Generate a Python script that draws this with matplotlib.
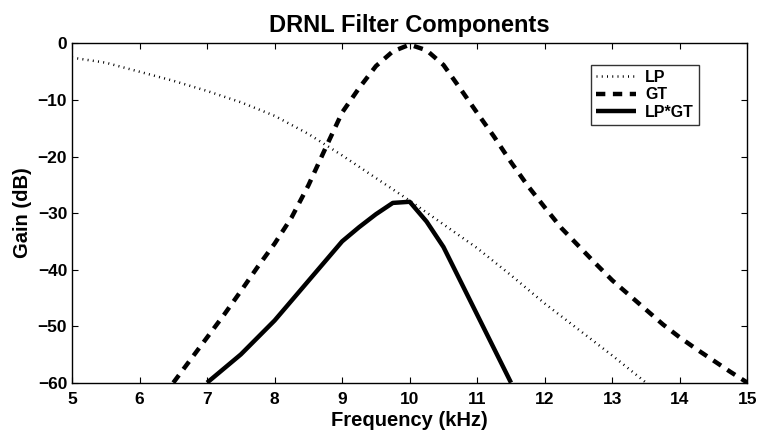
import matplotlib
matplotlib.use("Agg")
import matplotlib.pyplot as plt

plt.rcParams['font.family'] = ['Liberation Sans', 'DejaVu Sans']
plt.rcParams['font.weight'] = 'bold'

# Low-pass response (dB)
lp_freq = [5.0, 5.5, 6.0, 6.5, 7.0, 7.5, 8.0, 8.5, 9.0, 9.5, 10.0,
           10.5, 11.0, 11.5, 12.0, 12.5, 13.0, 13.5]
lp_gain = [-2.5, -3.4, -5.0, -6.6, -8.4, -10.4, -12.8, -16.0, -19.8, -23.8,
           -27.8, -32.0, -36.2, -41.0, -46.0, -50.6, -55.2, -60.0]

# Gammatone response (dB)
gt_freq = [6.5, 6.75, 7.0, 7.25, 7.5, 7.75, 8.0, 8.25, 8.5, 8.75, 9.0,
           9.25, 9.5, 9.75, 10.0, 10.25, 10.5, 10.75, 11.0, 11.25, 11.5,
           11.75, 12.0, 12.25, 12.5, 12.75, 13.0, 13.25, 13.5, 13.75, 14.0,
           14.25, 14.5, 14.75, 15.0]
gt_gain = [-60.0, -56.0, -52.0, -48.0, -43.8, -39.5, -35.4, -30.8, -25.1,
           -18.6, -12.2, -7.9, -4.0, -1.4, -0.2, -1.2, -3.8, -8.0, -12.3,
           -16.5, -21.0, -25.2, -29.0, -32.7, -35.8, -38.9, -41.9, -44.5,
           -47.1, -49.7, -52.0, -54.1, -56.1, -58.1, -60.0]

# Combined cascade LP*GT (dB)
comb_freq = [7.0, 7.5, 8.0, 8.5, 9.0, 9.25, 9.5, 9.75, 10.0, 10.25, 10.5, 11.5]
comb_gain = [-60.0, -55.0, -49.0, -42.0, -35.0, -32.5, -30.2, -28.2, -28.0,
             -31.5, -36.0, -60.0]

fig = plt.figure(figsize=(7.58, 4.37), dpi=100)
ax = fig.add_axes([0.095, 0.1243, 0.891, 0.7762])

ax.plot(lp_freq, lp_gain, color='black', linewidth=1.8,
        dashes=(0.4, 1.7), dash_capstyle='butt', label='LP')
ax.plot(gt_freq, gt_gain, color='black', linewidth=3.2,
        dashes=(2.1, 1.7), dash_capstyle='butt', label='GT')
ax.plot(comb_freq, comb_gain, color='black', linewidth=3.2,
        solid_capstyle='butt', label='LP*GT')

ax.set_xlim(5, 15)
ax.set_ylim(-60, 0)
ax.set_xticks(range(5, 16))
ax.set_yticks(range(-60, 1, 10))
ax.set_yticklabels(['\u221260', '\u221250', '\u221240', '\u221230',
                    '\u221220', '\u221210', '0'])

ax.tick_params(direction='in', length=4.5, width=0.8, labelsize=12.5,
               top=True, right=True)
ax.tick_params(axis='x', pad=6.5)
ax.tick_params(axis='y', pad=3.5)
for lbl in ax.get_xticklabels() + ax.get_yticklabels():
    lbl.set_fontweight('bold')
for sp in ax.spines.values():
    sp.set_linewidth(1.0)

ax.set_title('DRNL Filter Components', fontsize=17, fontweight='bold', pad=8)
ax.set_xlabel('Frequency (kHz)', fontsize=14.5, fontweight='bold', labelpad=3)
ax.set_ylabel('Gain (dB)', fontsize=14.5, fontweight='bold', labelpad=4)

leg = ax.legend(loc='upper right', bbox_to_anchor=(0.928, 0.936),
                fontsize=11.5, frameon=True, fancybox=False, handlelength=2.5,
                handletextpad=0.6, borderpad=0.3, labelspacing=0.15,
                borderaxespad=0)
leg.get_frame().set_edgecolor('black')
leg.get_frame().set_linewidth(1.0)
for t in leg.get_texts():
    t.set_fontweight('bold')

fig.savefig('out.png', dpi=100)
